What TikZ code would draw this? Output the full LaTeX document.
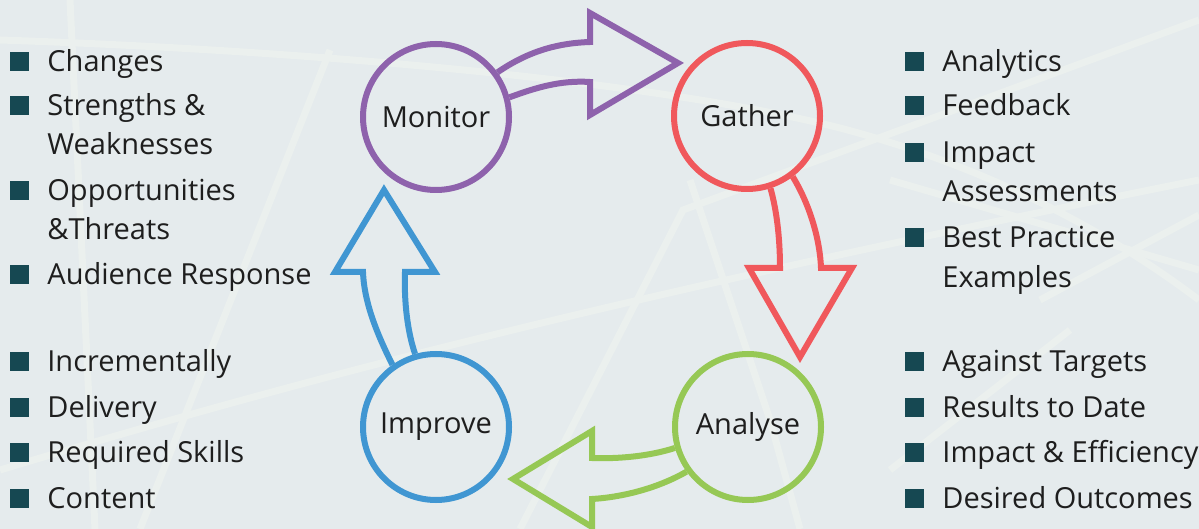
\documentclass[tikz,border=0pt]{standalone}
\usepackage{fontspec}
\setmainfont{Open Sans}
\definecolor{fond}{RGB}{229,235,237}
\definecolor{ligne}{RGB}{235,240,238}
\definecolor{mauve}{RGB}{142,98,172}
\definecolor{rouge}{RGB}{240,88,92}
\definecolor{bleu}{RGB}{64,150,210}
\definecolor{vert}{RGB}{150,200,85}
\definecolor{puce}{RGB}{22,72,82}
\definecolor{texte}{RGB}{30,30,30}

\begin{document}
\begin{tikzpicture}[x=0.5pt,y=-0.5pt,
  rond/.style={circle,draw,line width=3pt,minimum size=73pt,inner sep=0pt,text=texte,font=\fontsize{14.5}{19.5}\selectfont},
  fleche/.style={line width=3pt,line join=miter},
  carre/.style={fill=puce,minimum size=9.5pt,inner sep=0pt},
  item/.style={anchor=base west,inner sep=0pt,text=texte,font=\fontsize{14.5}{19.5}\selectfont},
  fil/.style={ligne,line width=3.5pt}]
\useasboundingbox (0,0) rectangle (1199,529);
\fill[fond] (0,0) rectangle (1199,529);

\draw[fil] (0,40) .. controls (300,50) and (650,80) .. (840,128) .. controls (1000,170) and (1120,240) .. (1199,300);
\draw[fil] (70,0) -- (95,529);
\draw[fil] (330,50) -- (140,529);
\draw[fil] (1199,20) -- (683,210) -- (520,529);
\draw[fil] (690,180) -- (770,420) -- (800,529);
\draw[fil] (890,180) -- (1199,270);
\draw[fil] (1040,300) -- (1199,215);
\draw[fil] (1070,330) -- (890,470);
\draw[fil] (0,470) .. controls (300,380) and (600,300) .. (1199,180);

\node[rond,draw=mauve] (mon) at (436,117) {\raisebox{-1pt}{Monitor}};
\node[rond,draw=rouge] (gat) at (747,116) {\raisebox{-1.5pt}{Gather}};
\node[rond,draw=vert] (ana) at (748,427) {\raisebox{-1pt}{Analyse}};
\node[rond,draw=bleu] (imp) at (436,427) {\raisebox{-1pt}{Improve}};

\draw[fleche,mauve] (mon.36) .. controls (530,50) and (560,43) .. (590,42) -- (590,13) -- (678,63) -- (590,115) -- (590,82) .. controls (560,80) and (535,88) .. (mon.15);
\draw[fleche,rouge] (gat.-72) .. controls (778,215) and (780,245) .. (780,268) -- (749,268) -- (800,357) -- (852,268) -- (821,268) .. controls (820,240) and (810,205) .. (gat.-53);
\draw[fleche,vert] (ana.196) .. controls (650,456) and (620,459) .. (592,458) -- (592,431) -- (513,479) -- (592,527) -- (592,499) .. controls (625,497) and (660,487) .. (ana.216);
\draw[fleche,bleu] (imp.125) .. controls (375,330) and (364,300) .. (363,272) -- (335,272) -- (384,190) -- (435,272) -- (405,272) .. controls (404,300) and (407,330) .. (imp.106);

\foreach \y [count=\i] in {72,116,201,285,371,417,462,508}
  \node[carre] (pg\i) at (19,\y-10) {};
\foreach \y/\txt [count=\i] in {72/Changes,116/Strengths \&,155/Weaknesses,201/Opportunities,240/\&Threats,285/Audience Response,371/Incrementally,417/Delivery,462/Required Skills,508/Content}
  \node[item] (tg\i) at (47,\y) {\txt};

\foreach \y [count=\i] in {72,116,163,248,371,417,462,508}
  \node[carre] (pd\i) at (914,\y-10) {};
\foreach \y/\txt [count=\i] in {72/Analytics,116/Feedback,163/Impact,202/Assessments,248/Best Practice,287/Examples,371/Against Targets,417/Results to Date,462/Impact \& Efficiency,508/Desired Outcomes}
  \node[item] (td\i) at (942,\y) {\txt};
\end{tikzpicture}
\end{document}
